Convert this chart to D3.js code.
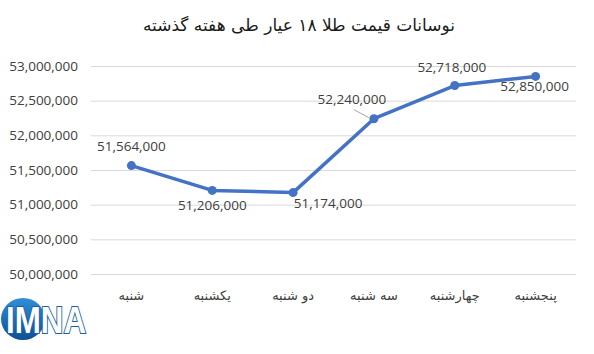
<!DOCTYPE html>
<html><head><meta charset="utf-8">
<script src="https://cdn.jsdelivr.net/npm/d3@7"></script>
<style>body{margin:0;background:#fff}svg{display:block}</style>
</head><body>
<svg id="c" width="594" height="354"></svg>
<script>
const categories = ["شنبه","یکشنبه","دو شنبه","سه شنبه","چهارشنبه","پنجشنبه"];
const prices = [51564000, 51206000, 51174000, 52240000, 52718000, 52850000];
const yTicks = [50000000,50500000,51000000,51500000,52000000,52500000,53000000];
const title = "نوسانات قیمت طلا ۱۸ عیار طی هفته گذشته";
// label placement offsets (dx, dy) relative to point
const labelOffsets = [[0,-15],[0,20],[35,15],[-22,-15],[-3,-14],[-1,15]];

const svg = d3.select("#c");
const x = d3.scaleBand().domain(categories).range([91,576]);
const y = d3.scaleLinear().domain([50000000,53000000]).range([274,66]);
const fmt = d3.format(",");
const numFont = "Open Sans, Liberation Sans, sans-serif";

svg.append("text").attr("x",299).attr("y",31).attr("text-anchor","middle")
  .attr("font-family","DejaVu Sans, sans-serif").attr("font-size",17).attr("fill","#1a1a1a").text(title);

const yAxis = svg.append("g").attr("transform","translate(91,0)")
  .call(d3.axisLeft(y).tickValues(yTicks).tickFormat(fmt).tickSize(-485).tickPadding(13));
yAxis.select(".domain").remove();
yAxis.selectAll("line").attr("stroke","#d9d9d9");
yAxis.selectAll("text").attr("font-family",numFont).attr("font-size",13.5).attr("fill","#404040");

const xAxis = svg.append("g").attr("transform","translate(0,274)")
  .call(d3.axisBottom(x).tickSize(0).tickPadding(17));
xAxis.select(".domain").remove();
xAxis.selectAll("text").attr("font-family","DejaVu Sans, sans-serif").attr("font-size",13).attr("fill","#404040");

const pts = categories.map((c,i)=>({c, v:prices[i], px:x(c)+x.bandwidth()/2, py:y(prices[i])}));

svg.append("path").datum(pts)
  .attr("d", d3.line().x(d=>d.px).y(d=>d.py))
  .attr("fill","none").attr("stroke","#4472C4").attr("stroke-width",3.5).attr("stroke-linejoin","round");

svg.selectAll("circle.pt").data(pts).join("circle")
  .attr("cx",d=>d.px).attr("cy",d=>d.py).attr("r",4.5).attr("fill","#4472C4");

// leader line for 4th label
const p3 = pts[3];
svg.append("line").attr("x1",p3.px-20).attr("y1",p3.py-9).attr("x2",p3.px-5).attr("y2",p3.py-1)
  .attr("stroke","#a6a6a6").attr("stroke-width",1);

svg.selectAll("text.lbl").data(pts).join("text").attr("class","lbl")
  .attr("x",(d,i)=>d.px+labelOffsets[i][0]).attr("y",(d,i)=>d.py+labelOffsets[i][1])
  .attr("text-anchor","middle").attr("font-family",numFont)
  .attr("font-size",13.5).attr("fill","#404040").text(d=>fmt(d.v));

// logo
const defs = svg.append("defs");
const g = defs.append("linearGradient").attr("id","lg").attr("x1",0).attr("y1",0).attr("x2",0).attr("y2",1);
g.append("stop").attr("offset","0").attr("stop-color","#2f8fd8");
g.append("stop").attr("offset","1").attr("stop-color","#0f4f96");
const logo = svg.append("g");
logo.append("ellipse").attr("cx",23).attr("cy",319).attr("rx",22).attr("ry",21).attr("fill","url(#lg)");
logo.append("text").attr("x",6).attr("y",333).attr("font-family","Liberation Sans, sans-serif")
  .attr("font-weight","bold").attr("font-size",36).attr("fill","#ffffff").attr("stroke","#1a5fa8").attr("stroke-width",2)
  .attr("paint-order","stroke").attr("textLength",80).attr("lengthAdjust","spacingAndGlyphs")
  .text("IMNA");
</script>
</body></html>
